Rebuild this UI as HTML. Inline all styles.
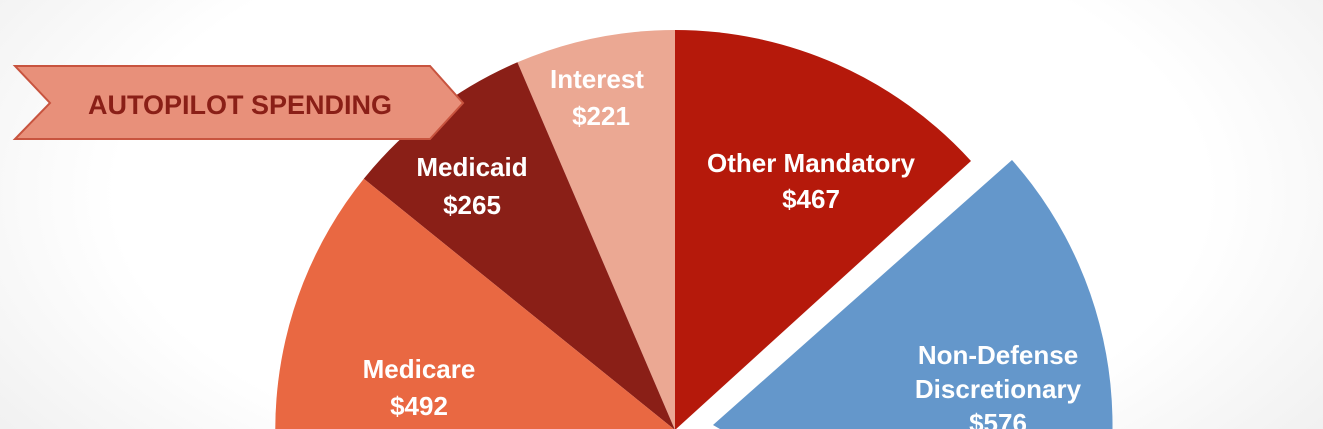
<!DOCTYPE html>
<html><head><style>
body{margin:0;width:1323px;height:429px;overflow:hidden;background:radial-gradient(ellipse 75% 120% at 50% 45%,#fff 55%,#e6e6e6 100%);font-family:"Liberation Sans",sans-serif}
</style></head><body>
<svg width="1323" height="429" style="position:absolute;left:0;top:0">
<path d="M675,430 L517.4,62.3 A400,400 0 0 1 675,30 Z" fill="#eba893"/>
<path d="M675,430 L363.8,178.8 A400,400 0 0 1 517.4,62.3 Z" fill="#8a1f17"/>
<path d="M675,430 L329,630 A400,400 0 0 1 363.8,178.8 Z" fill="#e96842"/>
<path d="M675,430 L675,30 A400,400 0 0 1 971,161 Z" fill="#b5190b"/>
<path d="M713,425 L1012,160 A400,400 0 0 1 1059,625 Z" fill="#6497cb"/>
<polygon points="15,66 430,66 463,103 430,139 15,139 50,103" fill="#e8907a" stroke="#c8543f" stroke-width="2"/>
<g fill="#fff" font-weight="bold" font-size="26" text-anchor="middle">
<text x="597" y="88">Interest</text><text x="601" y="125">$221</text>
<text x="472" y="176">Medicaid</text><text x="472" y="214">$265</text>
<text x="419" y="378">Medicare</text><text x="419" y="415">$492</text>
<text x="811" y="172">Other Mandatory</text><text x="811" y="208">$467</text>
<text x="998" y="364">Non-Defense</text><text x="998" y="398">Discretionary</text><text x="998" y="432">$576</text>
</g>
<text x="240" y="114" fill="#8a1f17" font-weight="bold" font-size="27" text-anchor="middle">AUTOPILOT SPENDING</text>
</svg>
</body></html>
